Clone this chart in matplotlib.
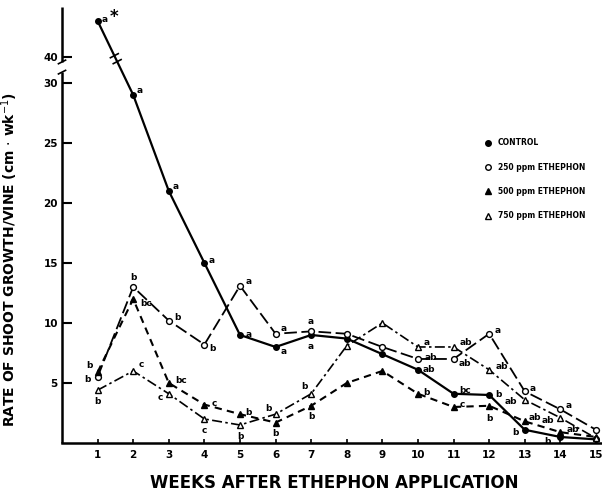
"""
Weekly shoot growth rate per vine after ethephon application.
"""
import numpy as np
import matplotlib
matplotlib.use('Agg')
import matplotlib.pyplot as plt
from matplotlib.lines import Line2D

# Data (cm per week)
weeks = list(range(1, 16))
control = [43, 29, 21, 15, 9, 8, 9, 8.7, 7.4, 6.1, 4.1, 4.0, 1.1, 0.5, 0.3]
eth_250 = [5.5, 13, 10.2, 8.2, 13.1, 9.1, 9.3, 9.1, 8.0, 7.0, 7.0, 9.1, 4.3, 2.8, 1.1]
eth_500 = [5.9, 12, 5.0, 3.2, 2.4, 1.7, 3.1, 5.0, 6.0, 4.1, 3.0, 3.1, 1.8, 0.9, 0.5]
eth_750 = [4.4, 6.0, 4.1, 2.0, 1.5, 2.4, 4.1, 8.1, 10.0, 8.0, 8.0, 6.1, 3.6, 2.1, 0.4]

# Mean separation letters ('' = no letter printed)
control_sig = ['a', 'a', 'a', 'a', 'a', 'a', 'a', '', '', 'ab', 'bc', 'b', 'b', 'b', '']
eth_250_sig = ['b', 'b', 'b', 'b', 'a', 'a', 'a', '', '', 'ab', 'ab', 'a', 'a', 'a', '']
eth_500_sig = ['b', 'bc', 'bc', 'c', 'b', 'b', 'b', '', '', 'b', 'c', 'b', 'ab', 'ab', '']
eth_750_sig = ['b', 'c', 'c', 'c', 'b', 'b', 'b', '', '', 'a', 'ab', 'ab', 'ab', 'ab', '']

labels = ['CONTROL', '250 ppm ETHEPHON', '500 ppm ETHEPHON', '750 ppm ETHEPHON']

ytick_values = [5, 10, 15, 20, 25, 30, 40]

# Letter offsets (points) from each marker
control_off = [(5, 1), (5, 3), (5, 3), (5, 2), (6, 0), (6, -3), (0, -8), (0, 0), (0, 0),
               (8, 0), (8, 2), (7, 0), (-7, -2), (-9, -3), (0, 0)]
eth_250_off = [(-7, -2), (0, 7), (6, 2), (6, -3), (6, 3), (6, 4), (0, 7), (0, 0), (0, 0),
               (9, 1), (8, -3), (6, 2), (6, 2), (6, 3), (0, 0)]
eth_500_off = [(-6, 5), (9, -3), (9, 2), (7, 1), (6, 1), (0, -8), (0, -8), (0, 0), (0, 0),
               (6, 1), (6, 2), (0, -9), (7, 3), (9, 2), (0, 0)]
eth_750_off = [(0, -8), (6, 5), (-6, -3), (0, -8), (0, -8), (-5, 4), (-5, 5), (0, 0), (0, 0),
               (6, 3), (9, 3), (9, 2), (-10, -1), (-9, -2), (0, 0)]

BREAK_SHIFT = 7.83  # values above the axis break are drawn this much lower
YTOP = 36.33


def squeeze(values):
    """Map data values onto the broken y axis."""
    return [v - BREAK_SHIFT if v > 35 else v for v in values]


def main():
    plt.rcParams['font.family'] = ['DejaVu Sans']
    fig = plt.figure(figsize=(6.02, 4.91), dpi=100)
    ax = fig.add_axes([0.103, 0.0978, 0.897, 0.888])

    series = [
        (control, control_sig, control_off, 'o', 'black', '-', 1.6, 4.0),
        (eth_250, eth_250_sig, eth_250_off, 'o', 'white', (0, (7, 2.5)), 1.3, 4.2),
        (eth_500, eth_500_sig, eth_500_off, '^', 'black', (0, (3.5, 2.5)), 1.5, 5.0),
        (eth_750, eth_750_sig, eth_750_off, '^', 'white', (0, (6, 2, 1.5, 2)), 1.2, 5.0),
    ]

    handles = []
    for values, sig, offs, marker, face, ls, lw, ms in series:
        yv = squeeze(values)
        ax.plot(weeks, yv, color='black', linestyle=ls, linewidth=lw,
                marker=marker, markerfacecolor=face, markeredgecolor='black',
                markeredgewidth=1.0, markersize=ms, clip_on=False, zorder=3)
        for w, v, s, off in zip(weeks, yv, sig, offs):
            if s:
                ax.annotate(s, (w, v), xytext=off, textcoords='offset points',
                            ha='center', va='center', fontsize=6.5, fontweight='bold')
        handles.append(Line2D([], [], color='black', linestyle='none', marker=marker,
                              markerfacecolor=face, markeredgecolor='black', markersize=4))

    # asterisk next to the first control point
    ax.annotate('*', (weeks[0], squeeze(control)[0]), xytext=(12, 3),
                textcoords='offset points', ha='center', va='center',
                fontsize=12, fontweight='bold')

    # break marks across the control line
    cy = squeeze(control)
    for bx in (1.47, 1.55):
        by = np.interp(bx, weeks[:2], cy[:2])
        ax.plot([bx - 0.11, bx + 0.11], [by - 0.17, by + 0.17], color='black',
                linewidth=1.2, zorder=4)

    # axes
    ax.set_xlim(0, 15.17)
    ax.set_ylim(0, YTOP)
    for side in ('top', 'right', 'left'):
        ax.spines[side].set_visible(False)
    ax.spines['bottom'].set_linewidth(1.8)

    # broken left spine
    lo_end, hi_start = 30.9, 31.75
    ax.plot([0, 0], [0, lo_end], color='black', linewidth=1.8, clip_on=False,
            solid_capstyle='butt')
    ax.plot([0, 0], [hi_start, YTOP], color='black', linewidth=1.8, clip_on=False,
            solid_capstyle='butt')
    for by in (lo_end, hi_start):
        ax.plot([-0.1, 0.1], [by - 0.15, by + 0.15], color='black', linewidth=1.2,
                clip_on=False)

    ax.set_xticks(weeks)
    ax.set_xticklabels([str(w) for w in weeks], fontsize=7.5, fontweight='bold')
    ax.set_yticks(squeeze(ytick_values))
    ax.set_yticklabels([str(v) for v in ytick_values], fontsize=7.5, fontweight='bold')
    ax.tick_params(axis='y', direction='in', length=7, width=1.5, pad=3)
    ax.tick_params(axis='x', direction='in', length=3, width=1.2, pad=5)

    ax.set_xlabel('WEEKS AFTER ETHEPHON APPLICATION', fontsize=12, fontweight='bold')
    ax.xaxis.set_label_coords(0.505, -0.07)
    ax.set_ylabel('RATE OF SHOOT GROWTH/VINE (cm $\\cdot$ wk$^{-1}$)', fontsize=10,
                  fontweight='bold')
    ax.yaxis.set_label_coords(-0.078, 0.42)

    ax.legend(handles, labels, loc='upper left', bbox_to_anchor=(0.805, 0.718),
              bbox_transform=fig.transFigure, frameon=False, prop={'size': 5.5, 'weight': 'bold'},
              handlelength=1.0, handletextpad=0.7, labelspacing=2.0, borderpad=0,
              borderaxespad=0)

    fig.savefig('out.png', dpi=100)
    plt.close(fig)


if __name__ == '__main__':
    main()
